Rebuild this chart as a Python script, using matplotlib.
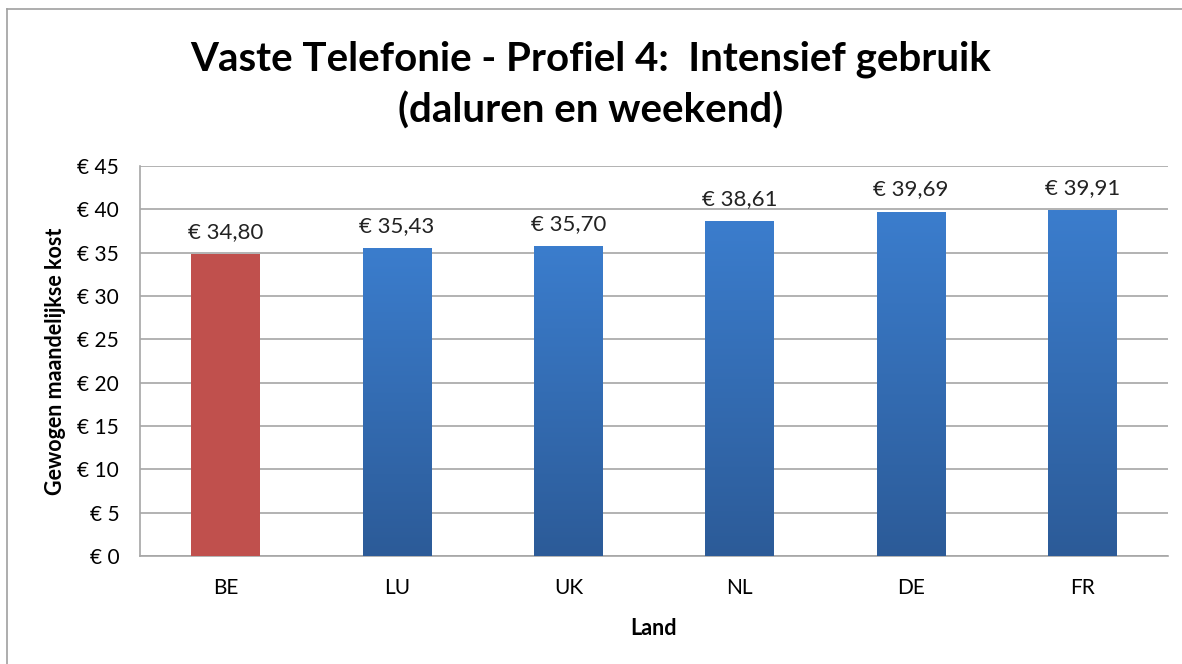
import matplotlib
matplotlib.use('Agg')
import matplotlib.pyplot as plt
import numpy as np
from matplotlib.colors import LinearSegmentedColormap
from matplotlib.lines import Line2D

plt.rcParams['font.family'] = ['Lato', 'DejaVu Sans']

landen = ['BE', 'LU', 'UK', 'NL', 'DE', 'FR']
kosten = [34.80, 35.43, 35.70, 38.61, 39.69, 39.91]
labels = ['€ 34,80', '€ 35,43', '€ 35,70', '€ 38,61', '€ 39,69', '€ 39,91']
yticks = [0, 5, 10, 15, 20, 25, 30, 35, 40, 45]

blue_cmap = LinearSegmentedColormap.from_list('blauw', ['#2C5B98', '#3B7DCD'])
red = '#C0504D'

fig = plt.figure(figsize=(11.82, 6.64), dpi=100)
ax = fig.add_axes([140/1182, 1 - 556/664, 1028/1182, 390/664])

x = np.arange(len(landen))
width = 0.4
grad = np.linspace(0, 1, 256).reshape(-1, 1)
for i, (xi, v) in enumerate(zip(x, kosten)):
    if landen[i] == 'BE':
        ax.bar(xi, v, width=width, color=red, zorder=3)
    else:
        ax.imshow(grad, cmap=blue_cmap, origin='lower', aspect='auto',
                  extent=(xi - width/2, xi + width/2, 0, v), zorder=3)
    ax.annotate(labels[i], (xi, v), xytext=(0, 9), textcoords='offset points',
                ha='center', va='bottom', fontsize=16, color='#222222')

ax.set_xlim(-0.5, len(landen) - 0.5)
ax.set_ylim(0, 45)
ax.set_yticks(yticks)
ax.set_yticklabels(['€ %d' % t for t in yticks], fontsize=15)
ax.set_xticks(x)
ax.set_xticklabels(landen, fontsize=15)
ax.tick_params(axis='y', length=0, pad=15)
ax.tick_params(axis='x', length=0, pad=16)
ax.yaxis.grid(True, color='#A6A6A6', linewidth=1.2, zorder=0)
ax.set_axisbelow(True)
for s in ['top', 'right']:
    ax.spines[s].set_visible(False)
ax.spines['left'].set_color('#A6A6A6')
ax.spines['bottom'].set_color('#A6A6A6')
ax.spines['left'].set_linewidth(1.2)
ax.spines['bottom'].set_linewidth(1.2)

ax.set_xlabel('Land', fontsize=15.5, fontweight='bold', labelpad=14)
ax.set_ylabel('Gewogen maandelijkse kost', fontsize=15.5, fontweight='bold', labelpad=8)

fig.text(0.5, 1 - 59/664, 'Vaste Telefonie - Profiel 4:  Intensief gebruik', ha='center', va='center',
         fontsize=29, fontweight='bold')
fig.text(0.5, 1 - 111/664, '(daluren en weekend)', ha='center', va='center',
         fontsize=29, fontweight='bold')

# outer chart frame
fig.add_artist(Line2D([7/1182, 7/1182], [0, 1 - 9/664], color='#A0A0A0', linewidth=1.2))
fig.add_artist(Line2D([7/1182, 1], [1 - 9/664, 1 - 9/664], color='#A0A0A0', linewidth=1.2))

fig.savefig('out.png', dpi=100)
